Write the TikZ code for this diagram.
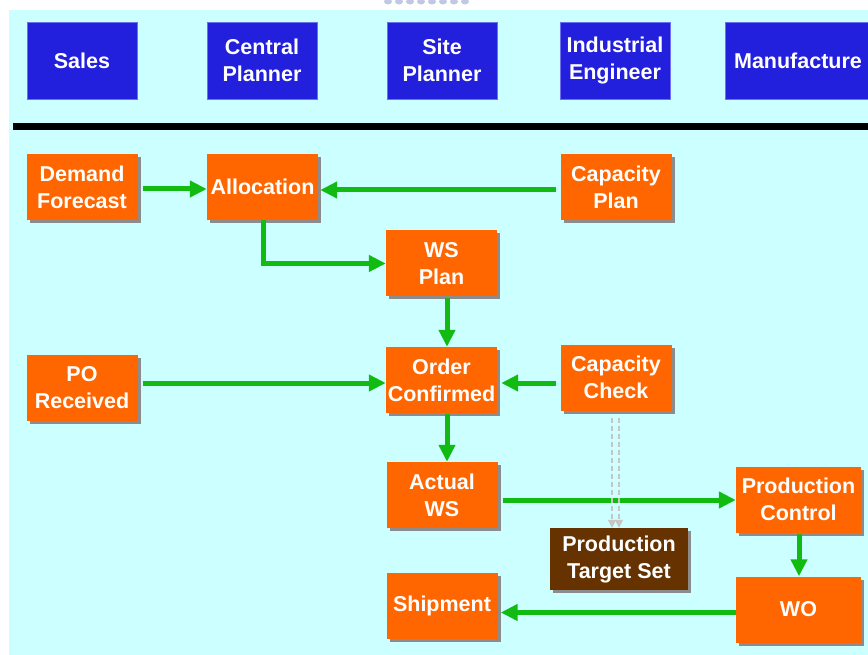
\documentclass[tikz,border=0pt]{standalone}
\usepackage{fontspec}
\setmainfont{Liberation Sans}
\usetikzlibrary{arrows.meta,shadows,calc}

\definecolor{bgcyan}{RGB}{204,255,255}
\definecolor{hdrblue}{RGB}{34,32,221}
\definecolor{hdredge}{RGB}{110,110,240}
\definecolor{boxorange}{RGB}{255,102,0}
\definecolor{boxbrown}{RGB}{102,51,0}
\definecolor{flowgreen}{RGB}{17,187,17}
\definecolor{shadowgray}{RGB}{140,140,140}
\definecolor{dashgray}{RGB}{198,198,198}
\definecolor{dotblue}{RGB}{150,165,210}

\tikzset{
  lbl/.style={text=white, font=\bfseries\fontsize{21.5}{27}\selectfont,
    align=center, inner sep=0pt},
  header/.style={lbl, fill=hdrblue, draw=hdredge, line width=0.6pt,
    minimum width=110pt, minimum height=77pt},
  task/.style={lbl, fill=boxorange, minimum width=111pt, minimum height=66pt,
    drop shadow={shadow xshift=3pt, shadow yshift=-3pt, fill=shadowgray, opacity=1}},
  target/.style={task, fill=boxbrown, minimum width=138pt, minimum height=62pt},
  flow/.style={draw=flowgreen, line width=5pt, -{Triangle[length=17pt,width=16pt]}},
  hint/.style={draw=dashgray, line width=1.5pt, dash pattern=on 5pt off 3pt,
    -{Triangle[length=8pt,width=8pt]}},
}

\begin{document}
\begin{tikzpicture}[x=1pt,y=-1pt]
  \useasboundingbox (0,0) rectangle (868,655);
  \clip (0,0) rectangle (868,655);

  % panel background and faint decoration at the top edge
  \fill[bgcyan] (9,10) rectangle (868,655);
  \foreach \x in {388,399,...,465}
    \fill[dotblue, opacity=0.6] (\x,1.5) ellipse (4 and 3);

  % role headers
  \node[header] (sales)   at (82,60.5)  {Sales};
  \node[header] (central) at (262,60.5) {Central\\Planner};
  \node[header] (site)    at (442,60.5) {Site\\Planner};
  \node[header] (ie)      at (615,60.5) {Industrial\\Engineer};
  \node[header, minimum width=146pt] (mfg) at (798,60.5) {Manufacture};

  % separator rule
  \fill[black] (13,123) rectangle (868,130);

  % process steps
  \node[task] (df)    at (82,187)     {Demand\\Forecast};
  \node[task] (alloc) at (262.5,187)  {Allocation};
  \node[task] (cp)    at (616,187)    {Capacity\\Plan};
  \node[task] (wsp)   at (441.5,263.5){WS\\Plan};
  \node[task] (po)    at (82,387.5)   {PO\\Received};
  \node[task] (oc)    at (441.5,380)  {Order\\Confirmed};
  \node[task] (cc)    at (616,377.5)  {Capacity\\Check};
  \node[task] (aws)   at (442,495)    {Actual\\WS};
  \node[task] (ship)  at (442,606)    {Shipment};
  \node[target] (pts) at (619,559)    {Production\\Target Set};
  \node[task, minimum width=125pt] (pc) at (798.5,499.5) {Production\\Control};
  \node[task, minimum width=125pt] (wo) at (798.5,609.5) {WO};

  % material / information flow
  \draw[flow] ($(df.east)+(5,2)$) -- ($(alloc.west)+(0,2)$);
  \draw[flow] ($(cp.west)+(-4,3)$) -- ($(alloc.east)+(2,3)$);
  \draw[flow] ($(alloc.south)+(1,0)$) |- (wsp.west);
  \draw[flow] ($(wsp.south)+(5.5,1)$) -- ($(oc.north)+(5.5,0)$);
  \draw[flow] ($(po.east)+(5,-4.5)$) -- ($(oc.west)+(0,3)$);
  \draw[flow] ($(cc.west)+(-4,5.5)$) -- ($(oc.east)+(4,3)$);
  \draw[flow] ($(oc.south)+(5.5,1)$) -- ($(aws.north)+(5,0)$);
  \draw[flow] ($(aws.east)+(5,5)$) -- ($(pc.west)+(0,0.5)$);
  \draw[flow] ($(pc.south)+(0.5,1)$) -- ($(wo.north)+(0.5,0)$);
  \draw[flow] ($(wo.west)+(0,3)$) -- ($(ship.east)+(3,6.5)$);

  % target hints
  \draw[hint] ($(cc.south)+(-4,7)$) -- ($(pts.north)+(-7,0)$);
  \draw[hint] ($(cc.south)+(3,7)$)  -- (pts.north);
\end{tikzpicture}
\end{document}
